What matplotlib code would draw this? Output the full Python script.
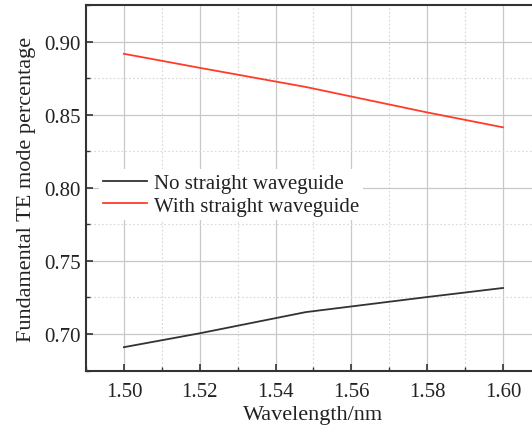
import matplotlib.pyplot as plt
from matplotlib.ticker import MultipleLocator

plt.rcParams["font.family"] = ["Liberation Serif", "DejaVu Serif"]
plt.rcParams["font.size"] = 15

# Wavelength samples and mode fractions for both layouts
wavelength = [1.50, 1.52, 1.548, 1.58, 1.60]
no_straight = [0.691, 0.7005, 0.715, 0.7253, 0.7315]
with_straight = [0.8917, 0.8821, 0.869, 0.8516, 0.8414]

fig = plt.figure(figsize=(5.32, 4.27), dpi=100)
ax = fig.add_axes([0.1617, 0.1288, 0.855, 0.8572])

ax.plot(wavelength, no_straight, color="#333333", lw=1.3, label="No straight waveguide")
ax.plot(wavelength, with_straight, color="#ff3b2a", lw=1.3, label="With straight waveguide")

ax.set_xlim(1.49, 1.61)
ax.set_ylim(0.6747, 0.9251)
ax.xaxis.set_major_locator(MultipleLocator(0.02))
ax.xaxis.set_minor_locator(MultipleLocator(0.01))
ax.yaxis.set_major_locator(MultipleLocator(0.05))
ax.yaxis.set_minor_locator(MultipleLocator(0.025))
ax.xaxis.set_major_formatter(lambda v, p: f"{v:.2f}")
ax.yaxis.set_major_formatter(lambda v, p: f"{v:.2f}")

ax.grid(which="major", color="#c8c8c8", lw=0.9, ls="-")
ax.grid(which="minor", color="#d8d8d8", lw=0.8, ls=(0, (1.5, 2)))
ax.set_axisbelow(True)

ax.tick_params(which="both", direction="in", top=False, right=False,
               colors="#333333", labelcolor="#222222")
ax.tick_params(which="major", length=5, width=1.2, pad=4, labelsize=15)
ax.tick_params(axis="x", which="major", pad=8)
ax.tick_params(which="minor", length=3, width=1.0)
for s in ax.spines.values():
    s.set_color("#333333")
    s.set_linewidth(1.5)

ax.set_xlabel("Wavelength/nm", fontsize=16, labelpad=3, color="#222222")
ax.set_ylabel("Fundamental TE mode percentage", fontsize=16, labelpad=6,
              color="#222222")

leg = ax.legend(loc="upper left", bbox_to_anchor=(0.005, 0.58), frameon=True,
                fancybox=False, borderpad=0.2, handlelength=2.1,
                handletextpad=0.35, labelspacing=0.15, fontsize=15)
leg.get_frame().set_edgecolor("none")
leg.get_frame().set_facecolor("white")
leg.get_frame().set_alpha(1)
for t in leg.get_texts():
    t.set_color("#222222")

fig.savefig("out.png", dpi=100)
